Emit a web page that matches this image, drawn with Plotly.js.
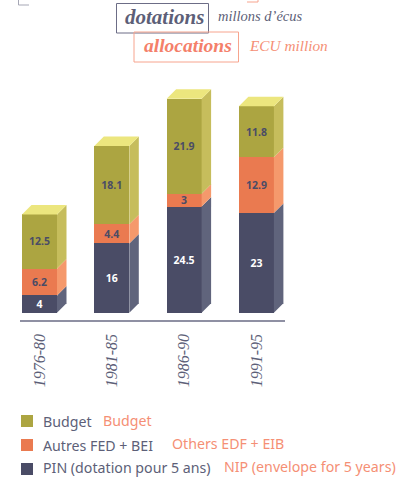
<!DOCTYPE html>
<html>
<head>
<meta charset="utf-8">
<script src="https://cdn.plot.ly/plotly-3.0.1.min.js"></script>
<style>html,body{margin:0;padding:0;background:#fff}#c{width:411px;height:477px}</style>
</head>
<body>
<div id="c"></div>
<script>
var periods = ['1976-80', '1981-85', '1986-90', '1991-95'];
var pin = [4, 16, 24.5, 23];
var autres = [6.2, 4.4, 3, 12.9];
var budget = [12.5, 18.1, 21.9, 11.8];
var legendFr = ['Budget', 'Autres FED + BEI', 'PIN (dotation pour 5 ans)'];
var legendEn = ['Budget', 'Others EDF + EIB', 'NIP (envelope for 5 years)'];

var W = 411, H = 477;
var L = 20, R = 285, T = 60, B = 320;
var unitX = 72.3, unitY = 4.33;
var x0px = 39.5, y0px = 312.7;
var xRange = [(L - x0px) / unitX, (R - x0px) / unitX];
var yRange = [(y0px - B) / unitY, (y0px - T) / unitY];
var barW = 35 / unitX, dx = 9.5 / unitX, dy = 9.5 / unitY;
var idx = periods.map(function (_, i) { return i; });

var NAVY = '#4a4c66', ORANGE = '#ea7a50', OLIVE = '#aca541';
var SALMON = '#f58f75', GREY = '#5d5f78';
var series = [
  {name: 'PIN', v: pin, color: NAVY, side: '#60647c', text: '#ffffff'},
  {name: 'Autres', v: autres, color: ORANGE, side: '#f5996c', text: NAVY},
  {name: 'Budget', v: budget, color: OLIVE, side: '#c6bd5c', text: NAVY}
];

function poly(xs, ys, color) {
  return {type: 'scatter', mode: 'lines', x: xs, y: ys, fill: 'toself', fillcolor: color,
          line: {width: 0, color: color}, hoverinfo: 'skip', showlegend: false};
}

var traces = [];
series.forEach(function (s) {
  traces.push({type: 'bar', name: s.name, x: idx, y: s.v, width: barW,
    marker: {color: s.color, line: {width: 0}},
    text: s.v.map(function (v) { return '<b>' + v + '</b>'; }), textposition: 'inside', insidetextanchor: 'middle',
    textangle: 0, constraintext: 'none',
    insidetextfont: {family: '"Noto Sans", sans-serif', size: 10.5, color: s.text},
    hoverinfo: 'y+name', showlegend: false});
});
var stack = idx.map(function () { return 0; });
series.forEach(function (s) {
  idx.forEach(function (i) {
    var xr = i + barW / 2, b = stack[i], t = b + s.v[i];
    traces.push(poly([xr, xr + dx, xr + dx, xr, xr], [b, b + dy, t + dy, t, b], s.side));
    stack[i] = t;
  });
});
idx.forEach(function (i) {
  var xl = i - barW / 2, xr = i + barW / 2, t = stack[i];
  traces.push(poly([xl, xr, xr + dx, xl + dx, xl], [t, t, t + dy, t + dy, t], '#ece67e'));
});

function px(x) { return (x - L) / (R - L); }
function py(y) { return (B - y) / (B - T); }
function rect(x0, y0, x1, y1, o) {
  return Object.assign({type: 'rect', xref: 'paper', yref: 'paper', x0: px(x0), x1: px(x1),
    y0: py(y0), y1: py(y1), line: {width: 0}}, o);
}
function label(text, x, y, color, size, family) {
  return {xref: 'paper', yref: 'paper', x: px(x), y: py(y), xanchor: 'left', yanchor: 'middle',
    text: text, showarrow: false, borderpad: 0, font: {family: family, size: size, color: color}};
}
var SERIF = '"Liberation Serif", serif', SANS = '"Noto Sans", sans-serif';

var shapes = [
  rect(116.5, 3.5, 208.5, 33, {line: {width: 1, color: '#6c6d86'}}),
  rect(134, 32, 238.5, 62, {line: {width: 1, color: '#f7a48e'}}),
  {type: 'path', xref: 'paper', yref: 'paper', line: {width: 1, color: '#a6a7b5'},
   path: 'M ' + px(18.5) + ' ' + py(0) + ' L ' + px(18.5) + ' ' + py(5) + ' L ' + px(29) + ' ' + py(5)},
  {type: 'path', xref: 'paper', yref: 'paper', line: {width: 1, color: '#f7a48e'},
   path: 'M ' + px(247) + ' ' + py(2) + ' L ' + px(258) + ' ' + py(2) + ' L ' + px(258) + ' ' + py(0)},
  rect(21, 415, 33, 427, {fillcolor: OLIVE}),
  rect(21, 439, 33, 451, {fillcolor: ORANGE}),
  rect(21, 463, 33, 475, {fillcolor: NAVY})
];

var annotations = [
  label('<b><i>dotations</i></b>', 124, 17, GREY, 21, SERIF),
  label('<i>millons d’écus</i>', 217, 16, GREY, 14.5, SERIF),
  label('<b><i>allocations</i></b>', 143, 46, '#f4806a', 19.5, SERIF),
  label('<i>ECU million</i>', 248, 45, SALMON, 15.3, SERIF)
];
var legendY = [421, 445, 467.5];
var legendEnX = [102, 171, 223];
var legendEnY = [420, 443, 466];
legendFr.forEach(function (t, i) {
  annotations.push(label(t, 42, legendY[i], GREY, 14.2, SANS));
  annotations.push(label(legendEn[i], legendEnX[i], legendEnY[i], SALMON, 14.2, SANS));
});

Plotly.newPlot('c', traces, {
  width: W, height: H, autosize: false,
  margin: {l: L, r: W - R, t: T, b: H - B, pad: 0},
  paper_bgcolor: '#ffffff', plot_bgcolor: '#ffffff',
  barmode: 'stack', showlegend: false,
  xaxis: {range: xRange, tickmode: 'array', tickvals: idx, ticktext: periods, tickangle: -90,
    showgrid: false, zeroline: false, showline: true, linecolor: '#8f90a3', linewidth: 1.5,
    ticks: 'outside', ticklen: 6, tickcolor: 'rgba(0,0,0,0)',
    tickfont: {family: SERIF, size: 16, color: GREY, style: 'italic'}},
  yaxis: {range: yRange, visible: false, showgrid: false, zeroline: false},
  shapes: shapes, annotations: annotations
}, {displayModeBar: false, staticPlot: true});
</script>
</body>
</html>
